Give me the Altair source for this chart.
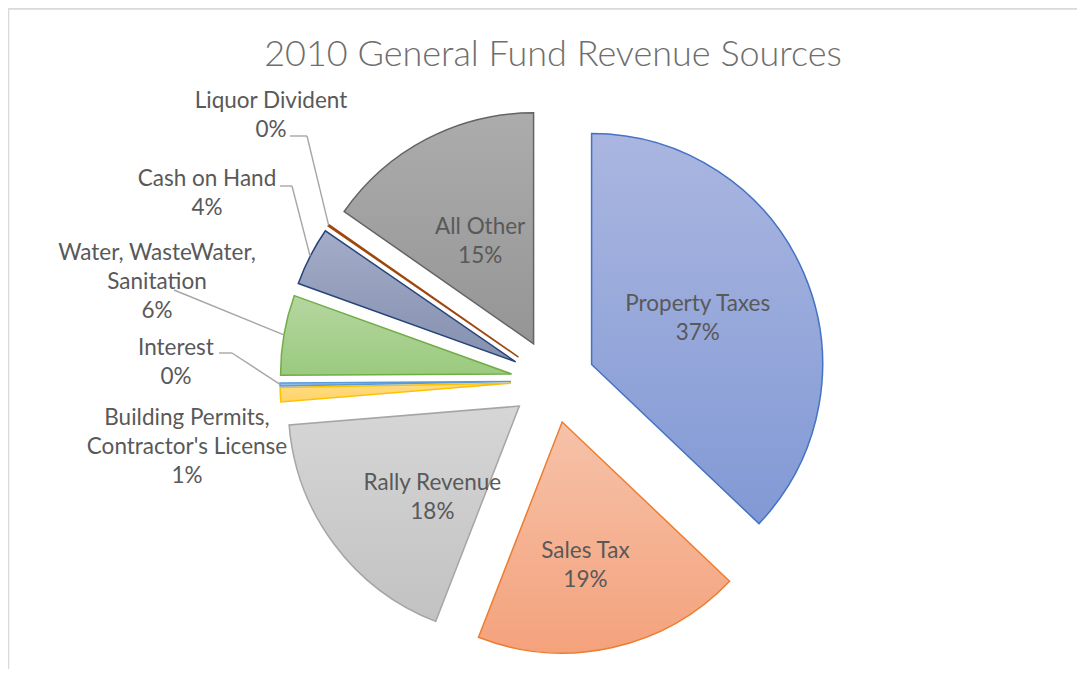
import math
import altair as alt
import pandas as pd

# ---------------- data ----------------
categories = [
    "Property Taxes",
    "Sales Tax",
    "Rally Revenue",
    "Building Permits, Contractor's License",
    "Interest",
    "Water, WasteWater, Sanitation",
    "Cash on Hand",
    "Liquor Divident",
    "All Other",
]
shares = [37.1, 18.8, 17.8, 1.0, 0.2, 5.6, 4.1, 0.1, 15.3]
title_text = "2010 General Fund Revenue Sources"

# ---------------- style / layout ----------------
W, H = 1069, 661
CX, CY = 545, 373          # pie centre (px, chart coords)
R = 231                    # pie radius
EXPLODE = 42               # explosion distance of every slice
FONT = "Lato"
LABEL_SIZE = 22.5
LINE_H = 29
LABEL_COLOR = "#595959"
LEADER_COLOR = "#A6A6A6"
WRAPPED = {"Water, WasteWater, Sanitation", "Building Permits, Contractor's License"}

COLORS = {  # stroke, gradient top, gradient bottom
    "Property Taxes": ("#4472C4", "#AAB6E0", "#8299D5"),
    "Sales Tax": ("#ED7D31", "#F6C2A9", "#F4A27C"),
    "Rally Revenue": ("#A5A5A5", "#D6D6D6", "#C2C2C2"),
    "Building Permits, Contractor's License": ("#FFC000", "#FFDC85", "#FFD466"),
    "Interest": ("#5B9BD5", "#A9C8EA", "#8DB5E2"),
    "Water, WasteWater, Sanitation": ("#70AD47", "#B5D6A0", "#9BCA7E"),
    "Cash on Hand": ("#264478", "#A3ACC8", "#8590AF"),
    "Liquor Divident": ("#9E480E", "#D9A98A", "#C98A64"),
    "All Other": ("#636363", "#ACACAC", "#959595"),
}

# inside labels: (fraction of radius, angle shift in degrees)
INSIDE = {
    "Property Taxes": (0.5, 0.0),
    "Sales Tax": (0.63, 3.4),
    "Rally Revenue": (0.545, -9.6),
    "All Other": (0.5, 0.0),
}
# outside labels: label block centre and leader-line bend points
OUTSIDE = {
    "Liquor Divident": ((263, 107), [(282, 128), (299, 128)]),
    "Cash on Hand": ((199, 185), [(272, 178), (284, 178)]),
    "Water, WasteWater, Sanitation": ((149, 274), [(166, 282)]),
    "Interest": ((168, 354), [(211, 345), (224, 345)]),
    "Building Permits, Contractor's License": ((179, 439), []),
}


def wrap(name):
    if name in WRAPPED:
        head, tail = name.rsplit(", ", 1)
        return head + ",\n" + tail
    return name


TOTAL = sum(shares)
display = [wrap(c) for c in categories]
df = pd.DataFrame({
    "name": categories,
    "share": shares,
    "order": list(range(len(categories))),
    "display": display,
    "lines": [d.count("\n") + 2 for d in display],
})

theta_scale = alt.Scale(domain=[0, TOTAL], range=[0, 2 * math.pi])

base = (
    alt.Chart(df)
    .transform_window(cum="sum(share)", sort=[alt.SortField("order")], frame=[None, 0])
    .transform_calculate(
        start="datum.cum - datum.share",
        mid=f"(datum.cum - datum.share / 2) / {TOTAL} * 2 * PI",
        ax=f"{CX} + {EXPLODE} * sin(datum.mid)",
        ay=f"{CY} - {EXPLODE} * cos(datum.mid)",
        ex=f"datum.ax + {R} * sin(datum.mid)",
        ey=f"datum.ay - {R} * cos(datum.mid)",
        label=f"datum.display + '\\n' + format(datum.share / {TOTAL}, '.0%')",
        shift=f"(datum.lines - 1) * {LINE_H} / 2",
    )
)

layers = []

# border (top and left edges of the chart frame)
frame_df = pd.DataFrame({"k": [0]})
layers.append(
    alt.Chart(frame_df).mark_rule(color="#D9D9D9", strokeWidth=1.5).encode(
        x=alt.value(0), x2=alt.value(W), y=alt.value(1)
    )
)
layers.append(
    alt.Chart(frame_df).mark_rule(color="#D9D9D9", strokeWidth=1.5).encode(
        x=alt.value(0.5), y=alt.value(1), y2=alt.value(H)
    )
)

# slices
for c in categories:
    stroke, top, bottom = COLORS[c]
    grad = alt.LinearGradient(
        gradient="linear",
        stops=[alt.GradientStop(color=top, offset=0), alt.GradientStop(color=bottom, offset=1)],
        x1=0, x2=0, y1=0, y2=1,
    )
    layers.append(
        base.transform_filter(alt.datum.name == c)
        .mark_arc(radius=R, fill=grad, stroke=stroke, strokeWidth=1.5, strokeJoin="miter")
        .encode(
            theta=alt.Theta("start:Q", scale=theta_scale, stack=None),
            theta2="cum:Q",
            x=alt.X("ax:Q", scale=None, axis=None),
            y=alt.Y("ay:Q", scale=None, axis=None),
            tooltip=["name:N", "share:Q"],
        )
    )

# leader lines
for c, (pos, bends) in OUTSIDE.items():
    pts = [(str(px), str(py)) for px, py in bends] + [("datum.ex", "datum.ey")]
    for i in range(len(pts) - 1):
        (x1, y1), (x2, y2) = pts[i], pts[i + 1]
        layers.append(
            base.transform_filter(alt.datum.name == c)
            .transform_calculate(sx=x1, sy=y1, tx=x2, ty=y2)
            .mark_rule(color=LEADER_COLOR, strokeWidth=1.4)
            .encode(
                x=alt.X("sx:Q", scale=None, axis=None),
                y=alt.Y("sy:Q", scale=None, axis=None),
                x2="tx:Q",
                y2="ty:Q",
            )
        )

text_kw = dict(font=FONT, fontSize=LABEL_SIZE, color=LABEL_COLOR, lineBreak="\n",
               lineHeight=LINE_H, align="center", baseline="middle")

# inside labels
for c, (frac, dth) in INSIDE.items():
    d = math.radians(dth)
    layers.append(
        base.transform_filter(alt.datum.name == c)
        .transform_calculate(
            lx=f"datum.ax + {frac * R} * sin(datum.mid + {d})",
            ly=f"datum.ay - {frac * R} * cos(datum.mid + {d}) - datum.shift",
        )
        .mark_text(**text_kw)
        .encode(x=alt.X("lx:Q", scale=None, axis=None), y=alt.Y("ly:Q", scale=None, axis=None), text="label:N")
    )

# outside labels
for c, ((px, py), _) in OUTSIDE.items():
    layers.append(
        base.transform_filter(alt.datum.name == c)
        .transform_calculate(lx=str(px), ly=f"{py} - datum.shift")
        .mark_text(**text_kw)
        .encode(x=alt.X("lx:Q", scale=None, axis=None), y=alt.Y("ly:Q", scale=None, axis=None), text="label:N")
    )

# title
layers.append(
    alt.Chart(pd.DataFrame({"t": [title_text]})).mark_text(
        font=FONT, fontSize=36, fontWeight=300, color="#6E6E6E", align="center", baseline="alphabetic"
    ).encode(x=alt.value(CX), y=alt.value(58), text="t:N")
)

chart = (
    alt.layer(*layers)
    .properties(width=W, height=H, padding=0, autosize=alt.AutoSizeParams(type="none"))
    .configure_view(stroke=None)
    .configure(background="white")
)

chart.save("out.html", embed_options={"renderer": "svg", "actions": False})
